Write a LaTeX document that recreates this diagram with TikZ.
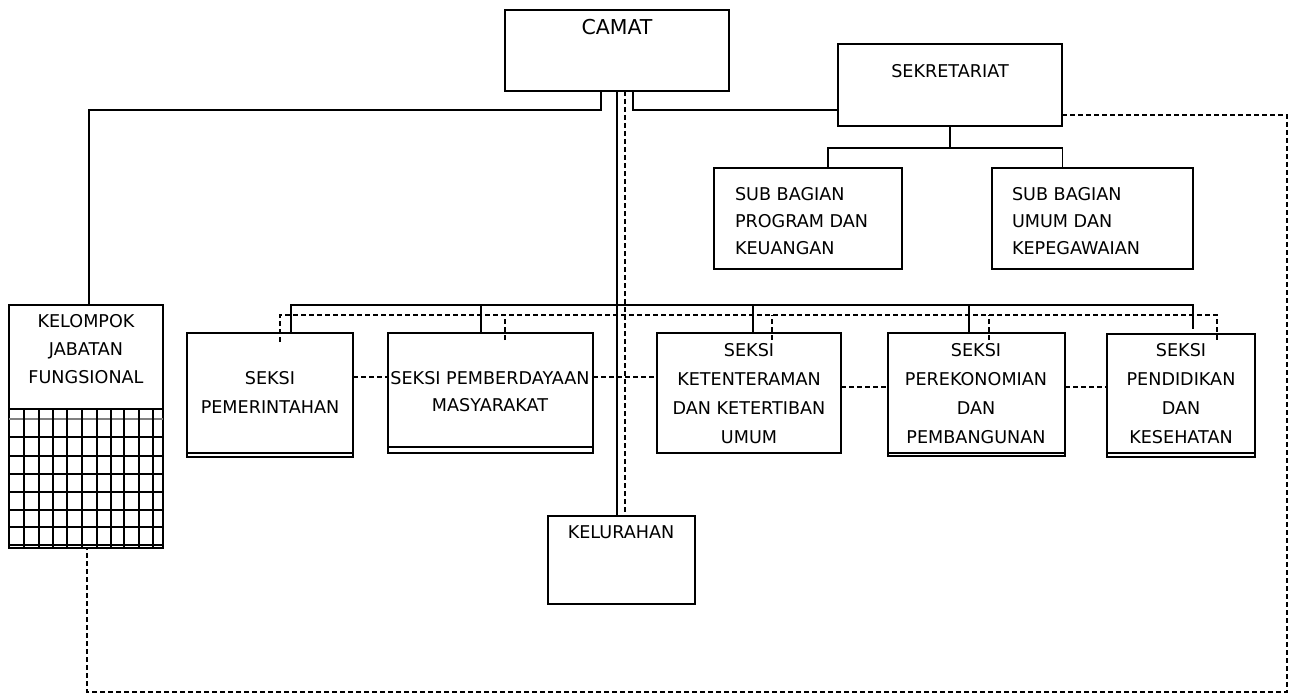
\documentclass[tikz,border=0pt]{standalone}
\usepackage{fontspec}
\setmainfont{DejaVu Sans}
\usetikzlibrary{calc}
\begin{document}
\begin{tikzpicture}[x=1pt,y=-1pt,
  box/.style={draw, line width=1.9pt, rectangle, inner sep=0pt, outer sep=0pt, anchor=north west},
  txt/.style={inner sep=0pt, outer sep=0pt, align=center, font=\fontsize{17.6}{#1}\selectfont},
  txt/.default=29,
  txtl/.style={inner sep=0pt, outer sep=0pt, align=left, anchor=west, font=\fontsize{17.6}{27}\selectfont},
  link/.style={draw, line width=1.8pt},
  dlink/.style={draw, line width=1.7pt, dash pattern=on 5pt off 3pt},
  gridln/.style={draw, line width=1.4pt}]
\fill[white] (0,0) rectangle (1293,698);
\useasboundingbox (0,0) rectangle (1293,698);

% boxes
\node[box, minimum width=224pt, minimum height=81pt] (camat) at (505,10) {};
\node[box, minimum width=224pt, minimum height=82pt] (sekr) at (838,44) {};
\node[box, minimum width=188pt, minimum height=101pt] (sub1) at (714,168) {};
\node[box, minimum width=201pt, minimum height=101pt] (sub2) at (992,168) {};
\node[box, minimum width=154pt, minimum height=243pt] (kjf) at (9,305) {};
\node[box, minimum width=166pt, minimum height=124pt] (s1) at (187,333) {};
\node[box, minimum width=205pt, minimum height=120pt] (s2) at (388,333) {};
\node[box, minimum width=184pt, minimum height=120pt] (s3) at (657,333) {};
\node[box, minimum width=177pt, minimum height=123pt] (s4) at (888,333) {};
\node[box, minimum width=148pt, minimum height=123pt] (s5) at (1107,334) {};
\node[box, minimum width=147pt, minimum height=88pt] (kel) at (548,516) {};

% texts
\node[inner sep=0pt, font=\fontsize{20.5}{24}\selectfont] (camat-t) at (617,27) {CAMAT};
\node[txt] (sekr-t) at (950,71) {SEKRETARIAT};
\node[txtl] (sub1-t) at (735,221) {SUB BAGIAN\\PROGRAM DAN\\KEUANGAN};
\node[txtl] (sub2-t) at (1012,221) {SUB BAGIAN\\UMUM DAN\\KEPEGAWAIAN};
\node[txt=28] (kjf-t) at (86,349) {KELOMPOK\\JABATAN\\FUNGSIONAL};
\node[txt=29] (s1-t) at (270,392.5) {SEKSI\\PEMERINTAHAN};
\node[txt=27] (s2-t) at (490,391.5) {SEKSI PEMBERDAYAAN\\MASYARAKAT};
\node[txt=29] (s3-t) at (749,393.5) {SEKSI\\KETENTERAMAN\\DAN KETERTIBAN\\UMUM};
\node[txt=29] (s4-t) at (976,393.5) {SEKSI\\PEREKONOMIAN\\DAN\\PEMBANGUNAN};
\node[txt=29] (s5-t) at (1181,393.5) {SEKSI\\PENDIDIKAN\\DAN\\KESEHATAN};
\node[txt] (kel-t) at (621,532) {KELURAHAN};

% box details: grid of kelompok jabatan fungsional
\draw[line width=1.9pt] (9,409) -- (163,409);
\draw[line width=1.4pt] (9,545) -- (163,545);
\draw[gray, line width=1.2pt] (9,419) -- (163,419);
\foreach \y in {437,456,474,492,510,527} \draw[gridln] (9,\y) -- (163,\y);
\foreach \x in {24,39,53,82,97,111,139,153} \draw[gridln] (\x,409) -- (\x,548);
\foreach \x in {67,124} \draw[line width=1.8pt] (\x,409) -- (\x,548);
% double bottoms
\draw[line width=1.4pt] (187,453) -- (353,453);
\draw[line width=1.4pt] (388,447) -- (593,447);
\draw[line width=1.4pt] (888,453) -- (1065,453);
\draw[line width=1.4pt] (1107,453) -- (1255,453);

% connectors from camat
\draw[link] ([xshift=-16pt]camat.south) -- ++(0,19) -| ([xshift=3pt]kjf.north);
\draw[link] ([xshift=16pt]camat.south) |- ([yshift=16pt]sekr.south west);
\coordinate (cs) at (camat.south);
\coordinate (cd) at ([xshift=8pt]camat.south);
\draw[link] (cs) -- (cs |- kel.north);
\draw[dlink] (cd) -- (cd |- kel.north);

% sekretariat to sub bagian
\draw[link] (sekr.south) -- ++(0,22) coordinate (sj);
\draw[link] ([xshift=20pt]sub1.north) |- (sj) -| ([xshift=-30pt]sub2.north);

% solid bus to seksi
\coordinate (busR) at (1193,305);
\draw[link] ([xshift=21pt]s1.north) |- (busR) -- ++(0,24);
\draw[link] ([xshift=-9.5pt]s2.north) -- ++(0,-28);
\draw[link] ([xshift=4pt]s3.north) -- ++(0,-28);
\draw[link] ([xshift=-7.5pt]s4.north) -- ++(0,-28);

% dashed bus to seksi
\coordinate (dbusR) at (1217,315);
\draw[dlink] ([shift={(10pt,-9pt)}]s1.north) |- (dbusR) -- ++(0,25);
\draw[dlink] ([shift={(14.5pt,-7pt)}]s2.north) -- ++(0,-25);
\draw[dlink] ([shift={(23pt,-7pt)}]s3.north) -- ++(0,-25);
\draw[dlink] ([shift={(12.5pt,-7pt)}]s4.north) -- ++(0,-25);

% dashed links between seksi
\draw[dlink] ([yshift=18pt]s1.east) -- ([yshift=16pt]s2.west);
\draw[dlink] ([yshift=16pt]s2.east) -- ([yshift=16pt]s3.west);
\draw[dlink] ([yshift=6pt]s3.east) -- ([yshift=7.5pt]s4.west);
\draw[dlink] ([yshift=7.5pt]s4.east) -- ([yshift=8.5pt]s5.west);

% dashed loop sekretariat -> kelompok jabatan fungsional
\draw[dlink] ([yshift=11pt]sekr.south east) -- ++(225,0) -- ++(0,577) -| ([xshift=1pt]kjf.south);
\end{tikzpicture}
\end{document}
